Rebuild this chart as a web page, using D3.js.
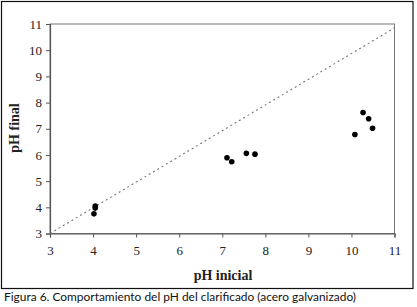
<!DOCTYPE html>
<html>
<head>
<meta charset="utf-8">
<script src="https://cdn.jsdelivr.net/npm/d3@7"></script>
<style>
  body { margin: 0; background: #fff; }
  svg { display: block; }
</style>
</head>
<body>
<div id="chart"></div>
<script>
const phInicial = [4.05, 4.05, 4.02, 7.11, 7.22, 7.56, 7.76, 10.08, 10.27, 10.40, 10.49];
const phFinal   = [4.05, 3.97, 3.75, 5.89, 5.74, 6.06, 6.03, 6.78, 7.62, 7.38, 7.02];
const refLine = [[3, 3], [11, 10.85]];
const ticks = [3, 4, 5, 6, 7, 8, 9, 10, 11];
const caption = "Figura 6. Comportamiento del pH del clarificado (acero galvanizado)";

const W = 417, H = 307;
const svg = d3.select("#chart").append("svg").attr("width", W).attr("height", H);

// outer frame
svg.append("rect").attr("x", 1.5).attr("y", 1.5).attr("width", 411.5).attr("height", 287)
    .attr("fill", "none").attr("stroke", "#111").attr("stroke-width", 1.2);

const x = d3.scaleLinear().domain([3, 11]).range([50, 394.5]);
const y = d3.scaleLinear().domain([3, 11]).range([233.5, 24]);

// plot box
svg.append("rect").attr("x", x(3)).attr("y", y(11)).attr("width", x(11) - x(3)).attr("height", y(3) - y(11))
    .attr("fill", "none").attr("stroke", "#777").attr("stroke-width", 1);

const xAxis = svg.append("g").attr("transform", `translate(0,${y(3)})`)
    .call(d3.axisBottom(x).tickValues(ticks).tickSize(4).tickPadding(8));
const yAxis = svg.append("g").attr("transform", `translate(${x(3)},0)`)
    .call(d3.axisLeft(y).tickValues(ticks).tickSize(4).tickPadding(4));

[xAxis, yAxis].forEach(g => {
    g.select(".domain").attr("stroke", "#555").attr("stroke-width", 1.2);
    g.selectAll(".tick line").attr("stroke", "#555");
    g.selectAll(".tick text").attr("font-family", "Liberation Serif, Times New Roman, serif")
        .attr("font-size", 13).attr("fill", "#222");
});

svg.append("path").datum(refLine)
    .attr("d", d3.line().x(d => x(d[0])).y(d => y(d[1])))
    .attr("fill", "none").attr("stroke", "#777").attr("stroke-width", 1.1)
    .attr("stroke-dasharray", "2 3");

svg.append("g").selectAll("circle").data(phInicial).join("circle")
    .attr("cx", d => x(d))
    .attr("cy", (d, i) => y(phFinal[i]))
    .attr("r", 2.8).attr("fill", "#000");

svg.append("text").attr("x", 223).attr("y", 280).attr("text-anchor", "middle")
    .attr("font-family", "Liberation Serif, Times New Roman, serif").attr("font-weight", "bold")
    .attr("font-size", 14).attr("fill", "#222").text("pH inicial");

svg.append("text").attr("transform", "translate(19,128) rotate(-90)").attr("text-anchor", "middle")
    .attr("font-family", "Liberation Serif, Times New Roman, serif").attr("font-weight", "bold")
    .attr("font-size", 14).attr("fill", "#222").text("pH final");

svg.append("text").attr("x", 4).attr("y", 301)
    .attr("font-family", "Lato, Noto Sans, sans-serif").attr("font-size", 12).attr("fill", "#111")
    .attr("textLength", 352).attr("lengthAdjust", "spacingAndGlyphs")
    .text(caption);
</script>
</body>
</html>
